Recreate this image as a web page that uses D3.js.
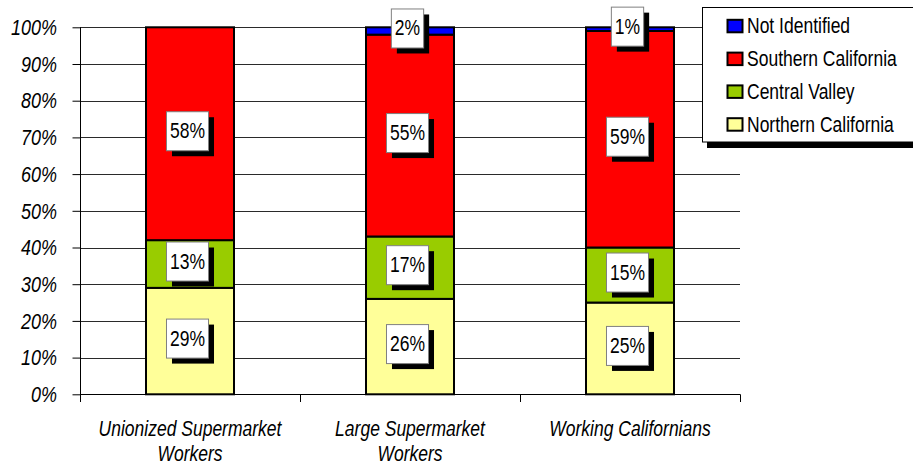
<!DOCTYPE html>
<html>
<head>
<meta charset="utf-8">
<script src="https://cdn.jsdelivr.net/npm/d3@7"></script>
<style>
  html, body { margin: 0; padding: 0; background: #fff; }
  svg { display: block; font-family: Arial, "Liberation Sans", sans-serif; }
</style>
</head>
<body>
<svg id="chart" width="913" height="465"></svg>
<script>
const categories = ["Unionized Supermarket Workers", "Large Supermarket Workers", "Working Californians"];
const categoryLines = [["Unionized Supermarket", "Workers"], ["Large Supermarket", "Workers"], ["Working Californians"]];
const seriesNames = ["Northern California", "Central Valley", "Southern California", "Not Identified"];
const northernCalifornia = [29, 26, 25];
const centralValley = [13, 17, 15];
const southernCalifornia = [58, 55, 59];
const notIdentified = [0, 2, 1];
const seriesColors = ["#FFFF99", "#99CC00", "#FF0000", "#0000FF"];
const yTicks = [0, 10, 20, 30, 40, 50, 60, 70, 80, 90, 100];
const legendOrder = ["Not Identified", "Southern California", "Central Valley", "Northern California"];

const seriesValues = [northernCalifornia, centralValley, southernCalifornia, notIdentified];
const table = categories.map((c, i) => {
  const row = { category: c };
  seriesNames.forEach((s, k) => row[s] = seriesValues[k][i]);
  return row;
});

const svg = d3.select("#chart");
const SY = 1.22;
const FS = 17.5;

const x = d3.scaleBand().domain(categories).range([80, 740]).paddingInner(0.6).paddingOuter(0.3);
const xc = d3.scaleBand().domain(categories).range([80, 740]);
const y = d3.scaleLinear().domain([0, 100]).range([394.3, 27.3]);
const color = d3.scaleOrdinal().domain(seriesNames).range(seriesColors);

// gridlines
svg.append("g").selectAll("line").data(yTicks.filter(t => t > 0)).join("line")
  .attr("x1", 80).attr("x2", 740)
  .attr("y1", d => Math.round(y(d)) + 0.5).attr("y2", d => Math.round(y(d)) + 0.5)
  .attr("stroke", "#2a2a2a").attr("stroke-width", 1);

// y axis
const yAxis = d3.axisLeft(y).tickValues(yTicks).tickSize(8).tickFormat("");
const yg = svg.append("g").attr("transform", "translate(80.5,0)").call(yAxis);
yg.select(".domain").remove();
yg.selectAll(".tick line").attr("stroke", "#000");
svg.append("line").attr("x1", 80.5).attr("x2", 80.5).attr("y1", y(100)).attr("y2", 402).attr("stroke", "#000");

// y tick labels (stretched)
yTicks.forEach(t => {
  svg.append("g").attr("transform", `translate(57,${y(t) + 7.7}) scale(1,${SY})`)
    .append("text").attr("text-anchor", "end").attr("font-style", "italic")
    .attr("font-size", 18).attr("fill", "#000").text(t + "%");
});

// x axis
svg.append("line").attr("x1", 80).attr("x2", 740).attr("y1", Math.round(y(0)) + 0.5).attr("y2", Math.round(y(0)) + 0.5).attr("stroke", "#000");
const bounds = categories.map(c => xc(c)).concat([xc(categories[2]) + xc.bandwidth()]);
svg.append("g").selectAll("line").data(bounds.slice(1)).join("line")
  .attr("x1", d => Math.round(d) + 0.5).attr("x2", d => Math.round(d) + 0.5)
  .attr("y1", y(0)).attr("y2", 402).attr("stroke", "#000");

// x labels
categories.forEach((c, i) => {
  const cx = x(c) + x.bandwidth() / 2;
  categoryLines[i].forEach((ln, j) => {
    svg.append("g").attr("transform", `translate(${cx},${436 + j * 24.5}) scale(1,${SY})`)
      .append("text").attr("text-anchor", "middle").attr("font-style", "italic")
      .attr("font-size", FS).attr("fill", "#000").text(ln);
  });
});

// stacked bars
const stack = d3.stack().keys(seriesNames);
const stacked = stack(table);
const barG = svg.append("g");
stacked.forEach(layer => {
  barG.append("g").selectAll("rect").data(layer.filter(d => d[1] - d[0] > 0)).join("rect")
    .attr("x", d => x(d.data.category))
    .attr("width", x.bandwidth())
    .attr("y", d => y(d[1]))
    .attr("height", d => y(d[0]) - y(d[1]))
    .attr("fill", color(layer.key))
    .attr("stroke", "#000").attr("stroke-width", 2);
});

// value labels
const labG = svg.append("g");
stacked.forEach(layer => {
  layer.filter(d => d[1] - d[0] > 0).forEach(d => {
    const cx = x(d.data.category) + x.bandwidth() / 2 - 2.5;
    const cy = y((d[0] + d[1]) / 2) - 2.5;
    const txt = (d[1] - d[0]) + "%";
    const g = labG.append("g");
    const shadow = g.append("rect").attr("fill", "#000");
    const box = g.append("rect").attr("fill", "#fff").attr("stroke", "#808080").attr("stroke-width", 1);
    const tg = g.append("g").attr("transform", `translate(${cx},${cy + 7}) scale(1,${SY})`);
    const t = tg.append("text").attr("text-anchor", "middle").attr("font-size", FS).attr("fill", "#000").text(txt);
    const w = t.node().getComputedTextLength() + 7;
    const h = 39;
    box.attr("x", cx - w / 2).attr("y", cy - h / 2).attr("width", w).attr("height", h);
    shadow.attr("x", cx - w / 2 + 5.5).attr("y", cy - h / 2 + 5.5).attr("width", w).attr("height", h);
  });
});

// legend
const lg = svg.append("g");
lg.append("rect").attr("x", 707).attr("y", 12).attr("width", 230).attr("height", 136).attr("fill", "#000");
lg.append("rect").attr("x", 702.5).attr("y", 7.5).attr("width", 230).attr("height", 134.5)
  .attr("fill", "#fff").attr("stroke", "#000").attr("stroke-width", 1);
legendOrder.forEach((name, i) => {
  const base = 33.3 + i * 32.8;
  lg.append("rect").attr("x", 727.5).attr("y", base - 13.5).attr("width", 15).attr("height", 12.5)
    .attr("fill", color(name)).attr("stroke", "#000").attr("stroke-width", 2);
  lg.append("g").attr("transform", `translate(747,${base}) scale(1,${SY})`)
    .append("text").attr("font-size", FS).attr("fill", "#000").text(name);
});
</script>
</body>
</html>
